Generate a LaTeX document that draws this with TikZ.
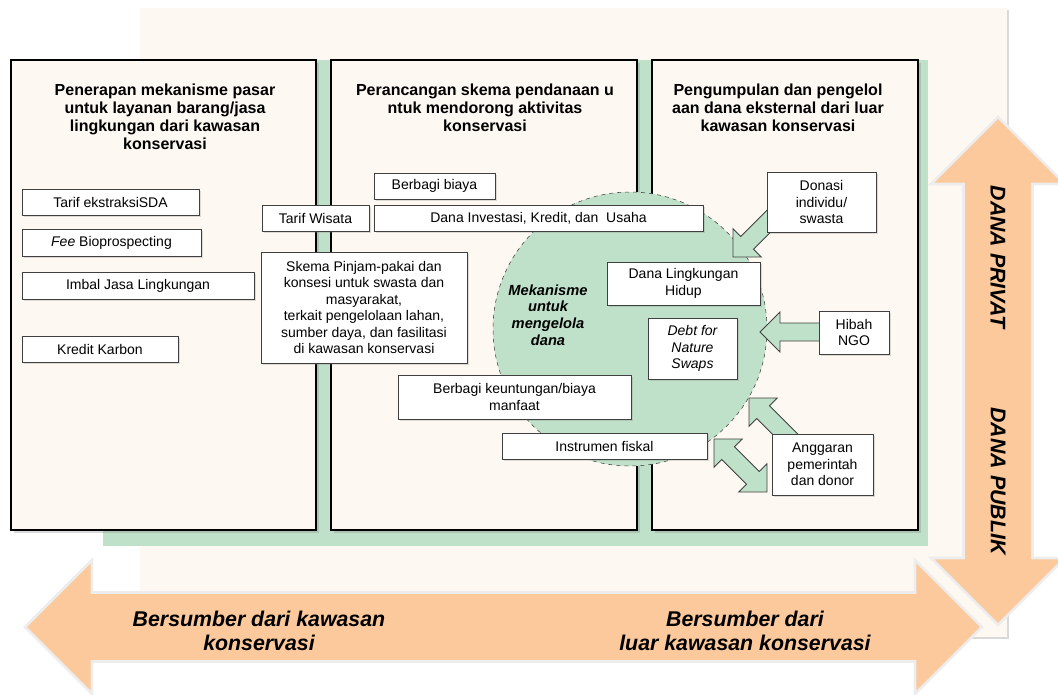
\documentclass[tikz,border=0pt]{standalone}
\usepackage{fontspec}
\setmainfont{Liberation Sans}
\usetikzlibrary{calc}
\usetikzlibrary{positioning}
\usetikzlibrary{shadows}

\definecolor{cream}{HTML}{FDF8F1}
\definecolor{mint}{HTML}{BFE1C9}
\definecolor{peach}{HTML}{FBC99B}

% block arrow: [style]{tip}{tail}{half shaft}{half head}{head length}
\newcommand\singlearrow[6][]{%
  \coordinate (sa-b) at ($(#2)!#6!(#3)$);
  \draw[#1] (#2) -- ($(sa-b)!#5!90:(#3)$) -- ($(sa-b)!#4!90:(#3)$)
    -- ($(#3)!#4!-90:(#2)$) -- ($(#3)!#4!90:(#2)$)
    -- ($(sa-b)!#4!-90:(#3)$) -- ($(sa-b)!#5!-90:(#3)$) -- cycle;}
% block arrow with two heads: [style]{tip}{tip}{half shaft}{half head}{head length}
\newcommand\doublearrow[6][]{%
  \coordinate (da-a) at ($(#2)!#6!(#3)$);
  \coordinate (da-b) at ($(#3)!#6!(#2)$);
  \draw[#1] (#2) -- ($(da-a)!#5!90:(#3)$) -- ($(da-a)!#4!90:(#3)$)
    -- ($(da-b)!#4!-90:(#2)$) -- ($(da-b)!#5!-90:(#2)$) -- (#3)
    -- ($(da-b)!#5!90:(#2)$) -- ($(da-b)!#4!90:(#2)$)
    -- ($(da-a)!#4!-90:(#3)$) -- ($(da-a)!#5!-90:(#3)$) -- cycle;}

\begin{document}
\begin{tikzpicture}[x=0.75pt, y=-0.75pt,
    panel/.style={draw=black, line width=0.9pt, fill=cream,
      drop shadow={opacity=0.3, shadow xshift=2pt, shadow yshift=-2pt}},
    panelhead/.style={anchor=north, align=center, inner sep=0pt,
      font=\fontsize{12}{13.5}\selectfont\bfseries},
    item/.style={draw=black!75, line width=0.6pt, fill=white, inner sep=1pt,
      align=center, font=\fontsize{10.5}{12.3}\selectfont,
      drop shadow={opacity=0.25, shadow xshift=1.2pt, shadow yshift=-1.2pt}},
    boxsize/.style 2 args={minimum width=#1*0.75pt, minimum height=#2*0.75pt},
    hub/.style={circle, draw=black!75, dashed, fill=mint, inner sep=0pt},
    push/.style={fill=mint, draw=black!75, line width=0.7pt, line join=miter},
    flow/.style={fill=peach, draw=black!7, line width=2pt},
    flowtext/.style={align=center, font=\fontsize{16}{17.5}\selectfont\bfseries\itshape}]

  \useasboundingbox (0,0) rectangle (1058,694);
  \clip (0,0) rectangle (1058,694);

  % backdrop
  \path[fill=cream, drop shadow={opacity=0.3, shadow xshift=1.5pt, shadow yshift=-1.5pt}]
    (140,8) rectangle (1007,637);
  \fill[mint] (103,60) rectangle (928,546);

  % three panels
  \node[panel, boxsize={305}{470}] (PanelPasar) at (163.5,295) {};
  \node[panel, boxsize={306}{470}] (PanelSkema) at (484,295) {};
  \node[panel, boxsize={266}{470}] (PanelLuar) at (785,295) {};

  \node[panelhead] (PasarHead) at (165,84) {Penerapan mekanisme pasar\\untuk layanan barang/jasa\\lingkungan dari kawasan\\konservasi};
  \node[panelhead] (SkemaHead) at (485,84) {Perancangan skema pendanaan u\\ntuk mendorong aktivitas\\konservasi};
  \node[panelhead] (LuarHead) at (778,84) {Pengumpulan dan pengelol\\aan dana eksternal dari luar\\kawasan konservasi};

  % fund circle
  \node[hub, minimum size=274*0.75pt] (Dana) at (630,329) {};
  \node[align=center, font=\fontsize{11}{12.6}\selectfont\bfseries\itshape] (Mekanisme) at (548,315) {Mekanisme\\untuk\\mengelola\\dana};

  % big flows
  \coordinate (DalamTip) at (25,627);
  \coordinate (LuarTip) at (982,627);
  \doublearrow[flow]{DalamTip}{LuarTip}{25.9pt}{50.25pt}{50.25pt}
  \coordinate (PrivatTip) at (998,117);
  \coordinate (PublikTip) at (998,625);
  \doublearrow[flow]{PrivatTip}{PublikTip}{25.9pt}{50.25pt}{50.25pt}

  \node[flowtext] (DalamText) at (259,631) {Bersumber dari kawasan\\konservasi};
  \node[flowtext] (LuarText) at (745,631) {Bersumber dari\\luar kawasan konservasi};
  \node[flowtext, rotate=-90] (PrivatText) at (998,257) {DANA PRIVAT};
  \node[flowtext, rotate=-90] (PublikText) at (998,481) {DANA PUBLIK};

  % small flows into the circle
  \coordinate (DonasiTip) at (733,257);
  \coordinate (DonasiTail) at (782,208);
  \singlearrow[push]{DonasiTip}{DonasiTail}{6.75pt}{15pt}{15pt}
  \coordinate (HibahTip) at (760,332);
  \coordinate (HibahTail) at (830,332);
  \singlearrow[push]{HibahTip}{HibahTail}{6.75pt}{15pt}{15pt}
  \coordinate (AnggaranTip) at (749,398);
  \coordinate (AnggaranTail) at (795,444);
  \singlearrow[push]{AnggaranTip}{AnggaranTail}{6.75pt}{15pt}{15pt}
  \coordinate (TimbalA) at (714,439);
  \coordinate (TimbalB) at (767,492);
  \doublearrow[push]{TimbalA}{TimbalB}{6.75pt}{15pt}{15pt}

  % panel 1
  \node[item, boxsize={177}{26}] (TarifSDA) at (110.5,202) {Tarif ekstraksiSDA};
  \node[item, boxsize={179}{27}] (FeeBio) at (111.5,242.5) {\textit{Fee} Bioprospecting};
  \node[item, boxsize={232}{27}] (Imbal) at (138,285.5) {Imbal Jasa Lingkungan};
  \node[item, boxsize={156}{26}] (KreditKarbon) at (100,349) {Kredit Karbon};

  % panel 2
  \node[item, boxsize={107}{26}] (TarifWisata) at (315.5,218) {Tarif Wisata};
  \node[item, boxsize={121}{26}] (BerbagiBiaya) at (434.5,186) {Berbagi biaya};
  \node[item, boxsize={329}{26}] (DanaInvestasi) at (538.5,218) {Dana Investasi, Kredit, dan\ \ Usaha};
  \node[item, boxsize={206}{111}] (Skema) at (364,307.5) {Skema Pinjam-pakai dan\\konsesi untuk swasta dan\\masyarakat,\\terkait pengelolaan lahan,\\sumber daya, dan fasilitasi\\di kawasan konservasi};
  \node[item, boxsize={233}{44}] (BerbagiUntung) at (514.5,397) {Berbagi keuntungan/biaya\\manfaat};
  \node[item, boxsize={205}{26}] (Instrumen) at (604.5,446) {Instrumen fiskal};

  % panel 3
  \node[item, boxsize={153}{43}] (DanaLH) at (683.5,283.5) {Dana Lingkungan\\Hidup};
  \node[item, boxsize={89}{61}, font=\fontsize{10.5}{12.3}\selectfont\itshape] (Debt) at (692.5,348.5) {Debt for\\Nature\\Swaps};
  \node[item, boxsize={109}{60}] (Donasi) at (821.5,202) {Donasi\\individu/\\swasta};
  \node[item, boxsize={70}{43}] (Hibah) at (854,332.5) {Hibah\\NGO};
  \node[item, boxsize={101}{61}] (Anggaran) at (822.5,464.5) {Anggaran\\pemerintah\\dan donor};

\end{tikzpicture}
\end{document}
